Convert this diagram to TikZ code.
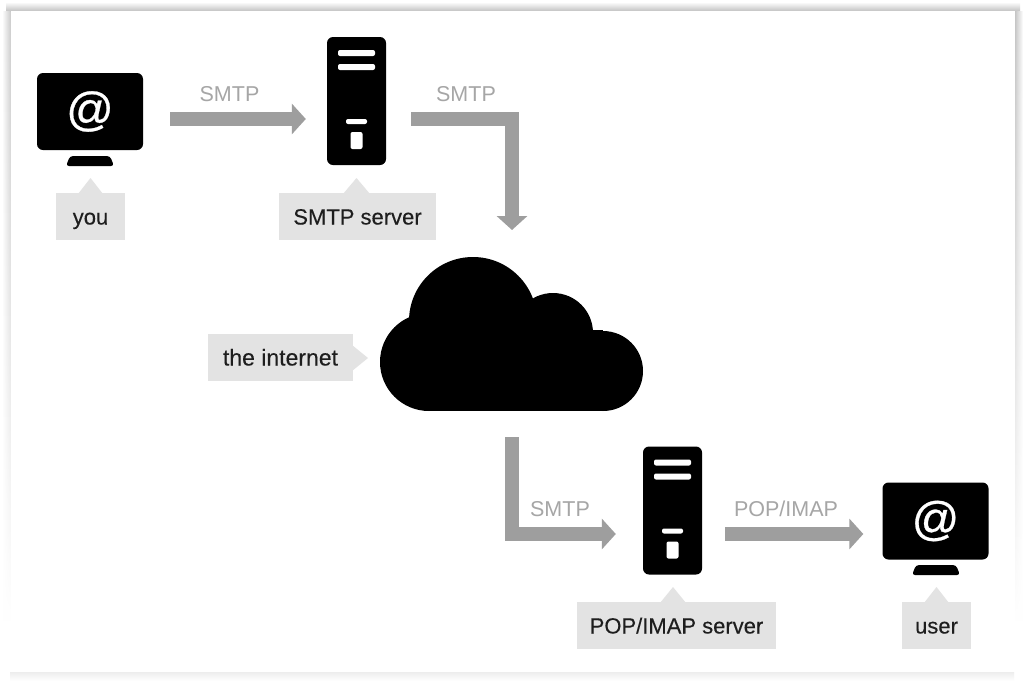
\documentclass[tikz,border=0pt]{standalone}
\usepackage{fontspec}
\setmainfont{Liberation Sans}
\newfontfamily\tagfont[FakeBold=0.25]{Liberation Sans}
\newfontfamily\atfont[FakeBold=0.6]{Liberation Sans}
\usetikzlibrary{arrows.meta,fadings}
\definecolor{flowgrey}{HTML}{9E9E9E}
\definecolor{tagfill}{HTML}{E3E3E3}
\definecolor{labgrey}{HTML}{A6A6A6}
\definecolor{txt}{HTML}{1E1E1E}
\tikzset{
  x=1pt,y=-1pt,
  flow/.style={draw=flowgrey,line width=14pt,line join=miter,-{Triangle[width=30pt,length=14pt]}},
  screen/.style={fill=black,rounded corners=6pt,minimum width=106pt,minimum height=77pt,inner sep=0pt,text=white,font=\atfont\fontsize{47}{47}\selectfont},
  tower/.style={fill=black,rounded corners=6pt,minimum width=59pt,minimum height=128pt,inner sep=0pt},
  tag/.style={fill=tagfill,minimum height=47pt,inner sep=0pt,text=txt,text height=16pt,text depth=0pt,font=\tagfont\fontsize{22}{24}\selectfont},
  proto/.style={text=labgrey,inner sep=0pt,text height=16pt,text depth=0pt,font=\fontsize{21.5}{24}\selectfont},
  slot/.style={fill=white,rounded corners=2pt},
}
\newcommand{\towerbars}[2]{%
  \fill[slot] (#1-18.5,#2-19.5) rectangle (#1+18.5,#2-13.5);
  \fill[slot] (#1-18.5,#2-5.5) rectangle (#1+18.5,#2+0.5);
  \fill[slot] (#1-10.5,#2+49.5) rectangle (#1+10.5,#2+54.5);
  \fill[slot] (#1-6,#2+62.5) rectangle (#1+6,#2+79.5);
}
\begin{document}
\begin{tikzpicture}
\useasboundingbox (0,0) rectangle (1024,683);
\fill[white] (0,0) rectangle (1024,683);
% card edge shadows
\shade[top color=white,bottom color=black!24] (6,2) rectangle (1020,11);
\shade[left color=white,right color=black!20,path fading=south] (2,11) rectangle (10.5,620);
\shade[left color=black!24,right color=white,path fading=south] (1014.5,11) rectangle (1023,620);
\shade[top color=black!7,bottom color=white] (10,672) rectangle (1014,681);
\fill[white] (10.5,11) rectangle (1014.5,672);

% cloud
\coordinate (cloud) at (512,335);
\fill[black] (429,362) circle[radius=49];
\fill[black] (473,321) circle[radius=64];
\fill[black] (553,333) circle[radius=40];
\fill[black] (603,371) circle[radius=40];
\fill[black] (429,330) rectangle (603,411);

% monitors
\node[screen] (you) at (90,111.5) {\raisebox{-2pt}{@}};
\fill[black,rounded corners=3pt] (66,166) -- (70,156) -- (110,156) -- (114,166) -- cycle;
\node[screen] (user) at (935.5,521) {\raisebox{-2pt}{@}};
\fill[black,rounded corners=3pt] (912,575) -- (916,565) -- (956,565) -- (960,575) -- cycle;

% servers
\node[tower] (smtp) at (356.5,101) {};
\towerbars{356.5}{69.5}
\node[tower] (pop) at (672.5,510.5) {};
\towerbars{672.5}{479}

% tags
\fill[tagfill] (78,194) -- (90.5,178) -- (103,194) -- cycle;
\node[tag,minimum width=69pt] (youtag) at (90.5,216.5) {you};
\fill[tagfill] (343,194) -- (356.5,178) -- (370,194) -- cycle;
\node[tag,minimum width=157pt] (smtptag) at (357.5,216.5) {SMTP server};
\fill[tagfill] (352,345) -- (368,358) -- (352,371) -- cycle;
\node[tag,minimum width=145pt,font=\tagfont\fontsize{23}{24}\selectfont] (nettag) at (280.5,357.5) {the internet};
\fill[tagfill] (660,603) -- (673,587) -- (686,603) -- cycle;
\node[tag,minimum width=199pt] (poptag) at (676.5,625.5) {POP/IMAP server};
\fill[tagfill] (924,603) -- (936.5,587) -- (949,603) -- cycle;
\node[tag,minimum width=69pt] (usertag) at (936.5,625.5) {user};

% connectors
\draw[flow] ([shift={(27,7.5)}]you.east) -- ([shift={(-21,18)}]smtp.west);
\draw[flow] ([shift={(25,18)}]smtp.east) -| ([shift={(0,-105)}]cloud);
\draw[flow] ([shift={(0,102)}]cloud) |- ([shift={(-27,23.5)}]pop.west);
\draw[flow] ([shift={(23,23.5)}]pop.east) -- ([shift={(-19,13)}]user.west);

% protocol labels
\node[proto] (p1) at (229.5,93) {SMTP};
\node[proto] (p2) at (466,93) {SMTP};
\node[proto] (p3) at (560,508) {SMTP};
\node[proto] (p4) at (786,508) {POP/IMAP};
\end{tikzpicture}
\end{document}
